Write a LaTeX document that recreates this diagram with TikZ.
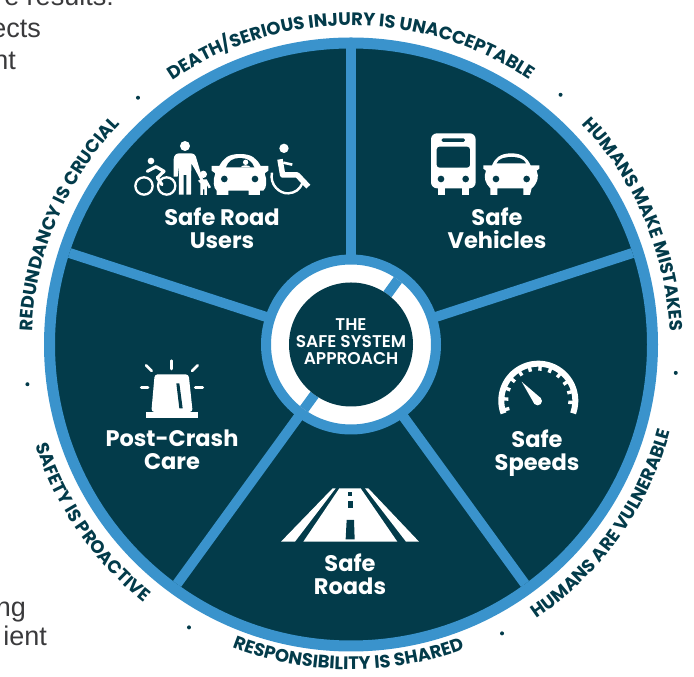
\documentclass[tikz,border=0pt]{standalone}
\usepackage{fontspec}
\usetikzlibrary{decorations.text}
\newfontfamily\gothb{Poppins}[UprightFont=* Bold,BoldFont=* Bold]
\newfontfamily\gothm{Poppins}[UprightFont=* SemiBold]
\setmainfont{Liberation Sans}
\definecolor{dk}{HTML}{033B4A}
\definecolor{bl}{HTML}{3A93CC}
\definecolor{gy}{HTML}{3A3A3C}
\newcommand\arcfont{\gothb\fontsize{18}{19}\selectfont}
\newcommand\arctextcw[3]{%
  \path[decorate,decoration={text along path,text align=center,text={|\color{dk}\arcfont|#3}}]
    ([shift={(#1+44:#2)}]c) arc[start angle=#1+44,end angle=#1-44,radius=#2];}
\newcommand\arctextccw[3]{%
  \path[decorate,decoration={text along path,text align=center,text={|\color{dk}\arcfont|#3}}]
    ([shift={(#1-44:#2)}]c) arc[start angle=#1-44,end angle=#1+44,radius=#2];}
\tikzset{
  lab/.style={text=white,font=\gothb\fontsize{22.5}{23}\selectfont,align=center,inner sep=0},
  side/.style={text=gy,font=\fontsize{27}{27}\selectfont,anchor=base east,inner sep=0},
  spoke/.style={draw=bl,line width=10pt},
  zoom/.style={x=0.3333pt,y=-0.3333pt},
}
\begin{document}
\begin{tikzpicture}[x=1pt,y=1pt]
\useasboundingbox (0,0) rectangle (694,677);
\coordinate (c) at (351,332.5);
\fill[white] (0,0) rectangle (694,677);
% background paragraph remnants
\node[side] (t1) at (114,671) {e results:};
\node[side] (t2) at (41,639) {ects};
\node[side] (t3) at (16,607) {nt};
\node[side] (t4) at (26,60) {ng};
\node[side] (t5) at (47,31) {ient};
% main disc
\draw[fill=dk,draw=bl,line width=11pt] (c) circle[radius=301.5pt];
% spokes
\foreach \a in {90,18,-54,-126,162}
  \draw[spoke] (c) -- ++(\a:296pt);
% hub
\draw[fill=white,draw=bl,line width=10pt] (c) circle[radius=85pt];
\draw[spoke] ([shift={(54:62pt)}]c) -- ([shift={(54:80pt)}]c);
\draw[spoke] ([shift={(234:62pt)}]c) -- ([shift={(234:80pt)}]c);
\fill[dk] (c) circle[radius=62pt];
\node[text=white,font=\gothm\fontsize{17}{17}\selectfont,align=center,inner sep=0] (hub) at (351,335.5)
  {THE\\SAFE SYSTEM\\APPROACH};
% labels
\node[lab] (u) at (222,449) {Safe Road\\Users};
\node[lab] (v) at (497,449) {Safe\\Vehicles};
\node[lab] (s) at (537,224) {Safe\\Speeds};
\node[lab] (r) at (350,103) {Safe\\Roads};
\node[lab] (p) at (172,227) {Post-Crash\\Care};
% arc texts
\arctextcw{90}{319pt}{DEATH/SERIOUS INJURY IS UNACCEPTABLE}
\arctextcw{23}{319pt}{HUMANS MAKE MISTAKES}
\arctextcw{157}{319pt}{REDUNDANCY IS CRUCIAL}
\arctextccw{-35.5}{331pt}{HUMANS ARE VULNERABLE}
\arctextccw{-90.5}{325pt}{RESPONSIBILITY IS SHARED}
\arctextccw{214.5}{331pt}{SAFETY IS PROACTIVE}
% dots
\foreach \a in {50,130.8,-5,187,-62.4,-119.8}
  \fill[dk] ([shift={(\a:326pt)}]c) circle[radius=2pt];
% road users icon
\begin{scope}[shift={(120,547)},zoom]
  \draw[white,line width=2.3pt] (72,168) circle[radius=26];
  \draw[white,line width=2.3pt] (140,168) circle[radius=26];
  \fill[white] (93,93) circle[radius=10];
  \draw[white,line width=3.2pt,line join=round,line cap=round] (82,124)--(108,110)--(132,124)--(112,143)--(126,164);
  % adult
  \fill[white] (195,48) circle[radius=15];
  \fill[white] (178,70) -- (212,70) .. controls (222,70) and (228,76) .. (230,88) -- (242,128) -- (250,150) -- (243,153) -- (226,120) -- (214,100) -- (213,194) -- (199,194) -- (199,135) -- (191,135) -- (191,194) -- (177,194) -- (177,100) -- (173,140) -- (161,140) -- (161,88) .. controls (162,76) and (168,70) .. (178,70) -- cycle;
  % child
  \fill[white] (250,133) circle[radius=11];
  \fill[white] (242,148) -- (260,148) -- (273,172) -- (266,175) -- (261,165) -- (261,195) -- (253,195) -- (253,178) -- (249,178) -- (249,195) -- (241,195) -- (241,160) -- (234,152) -- cycle;
  % car
  \fill[white] (290,195) -- (290,182) .. controls (280,175) and (278,150) .. (286,130) -- (275,122) -- (275,108) -- (298,108) .. controls (310,85) and (325,72) .. (360,72) .. controls (395,72) and (410,85) .. (422,108) -- (445,108) -- (445,122) -- (434,130) .. controls (442,150) and (440,175) .. (430,182) -- (420,182) -- (420,195) -- (386,195) -- (386,182) -- (325,182) -- (325,195) -- cycle;
  \fill[dk] (318,112) .. controls (325,92) and (340,84) .. (360,84) .. controls (380,84) and (396,92) .. (403,112) -- cycle;
  \fill[white] (377,97) circle[radius=8];
  \fill[white] (362,112) .. controls (364,104) and (390,104) .. (392,112) -- cycle;
  \fill[dk] (313,147) circle[radius=10];
  \fill[dk] (405,147) circle[radius=10];
  % wheelchair
  \fill[white] (492,55) circle[radius=14];
  \draw[white,line width=5.5pt,line join=round] (480,88)--(488,135)--(532,135)--(565,170);
  \draw[white,line width=2.6pt] (490,98)--(517,104);
  \draw[white,line width=2.4pt] (456,128) .. controls (448,165) and (480,192) .. (505,190) .. controls (525,189) and (540,178) .. (547,160);
\end{scope}
% vehicles icon
\begin{scope}[shift={(420,557)},zoom]
  \fill[white,rounded corners=6pt] (33,40) rectangle (167,205);
  \fill[white] (55,195) rectangle (75,225);
  \fill[white] (127,195) rectangle (147,225);
  \fill[dk,rounded corners=1.5pt] (65,55) rectangle (135,66);
  \fill[dk,rounded corners=3pt] (50,80) rectangle (150,143);
  \fill[dk] (63,177) circle[radius=10];
  \fill[dk] (137,177) circle[radius=10];
  \fill[white] (211,225) -- (211,205) .. controls (195,190) and (190,170) .. (198,152) -- (190,146) -- (190,136) -- (216,136) .. controls (225,115) and (240,100) .. (274,100) .. controls (308,100) and (322,115) .. (332,136) -- (358,136) -- (358,146) -- (350,152) .. controls (358,170) and (353,190) .. (335,205) -- (330,225) -- (310,225) -- (310,205) -- (232,205) -- (232,225) -- cycle;
  \fill[dk] (230,130) .. controls (235,116) and (255,111) .. (274,111) .. controls (293,111) and (313,116) .. (318,130) -- cycle;
  \fill[dk] (228,177) circle[radius=10];
  \fill[dk] (320,177) circle[radius=10];
\end{scope}
% speedometer icon
\begin{scope}[shift={(538.3,276.3)},zoom]
  \draw[white,line width=6pt] plot[domain=-200:20,samples=60] (\x:111);
  \foreach \a in {-195,-177,...,15}
    \draw[white,line width=3.4pt] (\a:110) -- (\a:90);
  \fill[white] (-50,-57) -- (7.75,-7.6) -- (-11.75,9.6) -- cycle;
  \fill[white] (-2,1) circle[radius=13];
\end{scope}
% beacon icon
\begin{scope}[shift={(120,327)},zoom]
  \fill[white] (77,185) rectangle (233,203);
  \fill[white,rounded corners=3pt] (94,186) -- (104,73) -- (206,73) -- (218,186) -- cycle;
  \fill[dk] (169,100) -- (178,100) -- (188,175) -- (178,175) -- cycle;
  \draw[white,line width=2.7pt,line cap=round] (155,32)--(155,57);
  \draw[white,line width=2.7pt,line cap=round] (78,46)--(95,63);
  \draw[white,line width=2.7pt,line cap=round] (233,46)--(216,63);
  \draw[white,line width=2.7pt,line cap=round] (64,112)--(84,112);
  \draw[white,line width=2.7pt,line cap=round] (226,112)--(248,112);
\end{scope}
% road icon
\begin{scope}[shift={(270,197)},zoom]
  \fill[white] (188,25)--(197,25)--(75,185)--(33,185)--cycle;
  \fill[white] (208,25)--(272,25)--(382,185)--(100,185)--cycle;
  \fill[white] (285,25)--(295,25)--(447,185)--(408,185)--cycle;
  \fill[dk] (235,37)--(245,37)--(245,48)--(235,48)--cycle;
  \fill[dk] (233,63)--(248,63)--(248,85)--(233,85)--cycle;
  \fill[dk] (230,120)--(252,120)--(254,178)--(227,178)--cycle;
\end{scope}
\end{tikzpicture}
\end{document}
